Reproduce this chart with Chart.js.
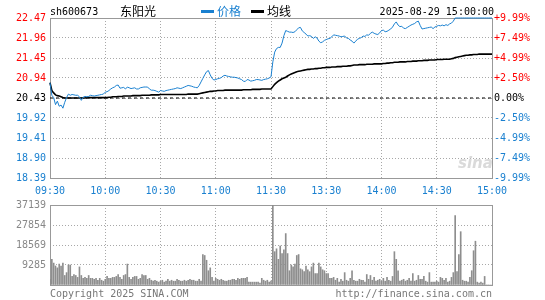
<!DOCTYPE html>
<html><head><meta charset="utf-8">
<script src="https://cdn.jsdelivr.net/npm/chart.js@4.4.0/dist/chart.umd.min.js"></script>
<style>
html,body{margin:0;padding:0;background:#fff;width:545px;height:300px;overflow:hidden;}
#wrap{position:relative;width:545px;height:300px;}
canvas{position:absolute;left:0;}
.t{position:absolute;white-space:nowrap;font-family:"DejaVu Sans Mono",monospace;font-size:10px;line-height:10px;}
.c{position:absolute;white-space:nowrap;font-family:"Noto Sans CJK SC",sans-serif;font-size:12px;line-height:12px;}
.bar{position:absolute;height:3px;width:13px;}
</style></head><body>
<div id="wrap">
<canvas id="pc" width="545" height="200" style="top:0;width:545px;height:200px"></canvas>
<canvas id="vc" width="545" height="105" style="top:195px;width:545px;height:105px"></canvas>
<div class="t" style="left:50px;top:7px;color:#000">sh600673</div>
<div class="c" style="left:120px;top:5px;color:#000">东阳光</div>
<div class="bar" style="left:201px;top:10px;background:#1a80d0"></div>
<div class="c" style="left:217px;top:5px;color:#1a80d0">价格</div>
<div class="bar" style="left:251px;top:10px;background:#000"></div>
<div class="c" style="left:267px;top:5px;color:#000">均线</div>
<div class="t" style="right:51px;top:7px;color:#000">2025-08-29 15:00:00</div>
<div style="position:absolute;left:458px;top:154px;font:italic bold 15px 'DejaVu Sans',sans-serif;color:#dadada;">sina</div>
<div class="t" style="left:50px;top:289px;color:#777">Copyright 2025 SINA.COM</div>
<div class="t" style="right:53px;top:289px;color:#777">http://finance.sina.com.cn</div>
</div>
<script>
const prevClose = 20.43;
const priceTicks = [18.39, 18.90, 19.41, 19.92, 20.43, 20.94, 21.45, 21.96, 22.47];
const pctLabels = ['-9.99%','-7.49%','-4.99%','-2.50%','0.00%','+2.50%','+4.99%','+7.49%','+9.99%'];
const timeTicks = [0, 30, 60, 90, 120, 150, 180, 210, 240];
const timeLabels = ['09:30','10:00','10:30','11:00','11:30','13:30','14:00','14:30','15:00'];
const volTicks = [0, 9285, 18569, 27854, 37139];

const priceAM = [
20.82,20.50,20.44,20.26,20.35,20.22,20.25,20.17,20.32,20.44,
20.53,20.50,20.52,20.51,20.50,20.50,20.46,20.37,20.45,20.47,
20.46,20.47,20.50,20.49,20.48,20.49,20.50,20.51,20.52,20.53,
20.58,20.59,20.62,20.66,20.69,20.71,20.75,20.76,20.68,20.69,
20.70,20.66,20.71,20.69,20.67,20.68,20.69,20.66,20.66,20.69,
20.70,20.71,20.71,20.71,20.66,20.63,20.63,20.62,20.60,20.58,
20.62,20.61,20.60,20.62,20.63,20.64,20.65,20.66,20.67,20.69,
20.68,20.67,20.69,20.71,20.73,20.75,20.74,20.73,20.71,20.70,
20.69,20.75,20.84,20.93,21.02,21.10,21.13,21.02,20.93,20.89,
20.90,20.92,20.93,20.95,20.99,21.01,20.99,20.98,20.97,20.96,
20.96,20.95,20.94,20.92,20.90,20.86,20.85,20.90,20.89,20.86,
20.87,20.88,20.90,20.90,20.89,20.88,20.90,20.91,20.92,20.94,
20.97];
const pricePM = [
21.35,21.60,21.69,21.72,21.72,21.83,22.02,22.15,22.13,
22.11,22.11,22.10,22.12,22.17,22.22,22.23,22.14,22.10,22.06,
22.01,22.02,22.00,21.95,21.99,21.96,21.88,21.84,21.86,21.90,
21.92,21.94,21.95,21.99,22.04,22.03,22.02,22.01,21.99,22.00,
22.01,21.96,21.95,21.91,21.88,21.83,21.88,21.93,21.95,21.97,
22.01,22.00,22.04,22.03,22.08,22.11,22.08,22.06,22.05,22.09,
22.15,22.16,22.12,22.13,22.16,22.19,22.24,22.32,22.37,22.29,
22.25,22.26,22.21,22.20,22.23,22.26,22.29,22.31,22.33,22.37,
22.39,22.28,22.19,22.20,22.21,22.22,22.23,22.24,22.20,22.24,
22.26,22.28,22.27,22.29,22.27,22.30,22.28,22.32,22.34,22.39,
22.47,22.47,22.47,22.47,22.47,22.47,22.47,22.47,22.47,22.47,
22.47,22.47,22.47,22.47,22.47,22.47,22.47,22.47,22.47,22.47,22.47];

const avgAM = [
20.82,20.62,20.56,20.51,20.49,20.48,20.46,20.44,20.43,20.43,
20.43,20.43,20.43,20.43,20.43,20.43,20.43,20.43,20.43,20.43,
20.44,20.44,20.44,20.44,20.44,20.44,20.44,20.44,20.44,20.44,
20.44,20.44,20.45,20.45,20.46,20.46,20.46,20.47,20.47,20.47,
20.48,20.48,20.48,20.48,20.48,20.49,20.49,20.49,20.49,20.49,
20.50,20.50,20.50,20.50,20.50,20.51,20.51,20.51,20.51,20.51,
20.52,20.52,20.52,20.52,20.52,20.52,20.52,20.52,20.52,20.52,
20.52,20.52,20.52,20.52,20.52,20.53,20.53,20.53,20.53,20.53,
20.53,20.54,20.55,20.56,20.57,20.58,20.59,20.60,20.60,20.61,
20.61,20.62,20.62,20.62,20.62,20.63,20.63,20.63,20.63,20.63,
20.63,20.63,20.63,20.63,20.63,20.64,20.64,20.64,20.64,20.64,
20.65,20.65,20.65,20.65,20.65,20.66,20.66,20.66,20.66,20.66,
20.66];
const avgPM = [
20.72,20.78,20.82,20.86,20.89,20.92,20.94,20.96,20.99,21.02,
21.04,21.06,21.08,21.10,21.11,21.12,21.13,21.14,21.15,21.16,
21.16,21.17,21.17,21.18,21.18,21.19,21.19,21.20,21.20,21.21,
21.21,21.21,21.22,21.22,21.22,21.23,21.23,21.23,21.24,21.24,
21.24,21.25,21.25,21.26,21.27,21.27,21.27,21.28,21.28,21.28,
21.28,21.29,21.29,21.29,21.29,21.30,21.30,21.30,21.30,21.30,
21.31,21.31,21.32,21.32,21.33,21.33,21.34,21.34,21.34,21.35,
21.35,21.35,21.35,21.36,21.36,21.36,21.37,21.37,21.37,21.38,
21.38,21.38,21.39,21.39,21.39,21.40,21.40,21.40,21.40,21.41,
21.41,21.41,21.41,21.42,21.42,21.42,21.42,21.43,21.44,21.46,
21.47,21.48,21.49,21.50,21.51,21.52,21.52,21.53,21.53,21.54,
21.54,21.54,21.55,21.55,21.55,21.55,21.55,21.55,21.55,21.55];

const volAM = [
2650,11930,10170,8840,7960,9720,8840,10170,4420,5750,
9280,9280,3980,4860,4420,3540,8400,4420,3090,3540,
3090,4420,3090,3090,2650,3090,2210,3090,2210,1770,
2650,3980,3090,3090,3540,3540,3980,4860,3540,2650,
4420,4860,9720,3540,2650,3540,3980,3980,2650,3090,
4860,4420,4420,2650,3090,2210,1770,2210,1770,1330,
1770,2210,1330,1770,2650,1770,2210,1770,1770,2650,
2210,1770,1770,2210,1770,2210,2650,2210,2210,1770,
1770,2650,1770,14140,13700,11490,6630,7960,3540,1770,
3090,2650,2210,2650,2210,1770,1770,2210,2210,2650,
2650,2210,3090,2650,3090,3090,3090,3540,1330,1330,
1330,1330,1330,1330,880,3090,2210,1770,2210,1330,
1770];
const volPM = [
37139,15470,16800,11930,18120,14590,16350,23870,14590,6630,
9280,8400,9720,13700,14140,7510,7070,6190,8840,7070,
6190,8400,10170,5300,5300,10170,8400,7070,6630,5300,
5300,3090,3090,3540,2210,3090,1330,2650,1770,5750,
2210,1770,3090,6630,2210,1770,1770,2650,2210,2210,
1330,4860,2650,4420,2210,3540,1770,2210,2650,1770,
3090,1770,3540,2210,1770,3980,15470,11930,6630,1770,
2210,2650,1770,2210,3090,1770,5300,1770,2210,4420,
2650,2650,3980,1770,1330,5750,1330,1330,1330,1770,
1330,3540,3090,2210,3090,1330,1770,3540,5750,32270,
6190,14140,24750,2210,1770,1770,1330,3540,6630,15910,
20330,1330,880,1330,880,3980,0,0,0,0];

const BLUE = '#1a80d0', RED = '#ff0000', GRID = '#a8a8a8', FRAME = '#999999';
const MONO = 'DejaVu Sans Mono';
const prices = priceAM.concat(pricePM);
const avgs = avgAM.concat(avgPM);
const vols = volAM.concat(volPM);
const toXY = arr => arr.map((v, i) => ({x: i, y: v}));

Chart.defaults.font.family = MONO;
Chart.defaults.font.size = 10;

const framePlugin = {
  id: 'frame',
  beforeDatasetsDraw(chart) {
    const {ctx, chartArea: a} = chart;
    ctx.save();
    ctx.strokeStyle = FRAME;
    ctx.lineWidth = 1;
    ctx.strokeRect(Math.round(a.left) + 0.5, Math.round(a.top) + 0.5,
      Math.round(a.right - a.left), Math.round(a.bottom - a.top));
    ctx.restore();
  }
};

const setTicks = list => s => { s.ticks = list.map(v => ({value: v})); };
const tickColor = c => c.index > 4 ? RED : (c.index === 4 ? '#000' : BLUE);

new Chart(document.getElementById('pc'), {
  type: 'line',
  data: {
    datasets: [
      {data: toXY(prices), borderColor: BLUE, borderWidth: 1, pointRadius: 0, tension: 0, order: 0, clip: 3, yAxisID: 'y'},
      {data: toXY(avgs), borderColor: '#000', borderWidth: 1.6, pointRadius: 0, tension: 0, order: 1, clip: 3, yAxisID: 'y'},
      {data: [{x: 0, y: prevClose}, {x: 240, y: prevClose}], borderColor: '#000', borderWidth: 1, borderDash: [3, 3], pointRadius: 0, order: 2, yAxisID: 'y'}
    ]
  },
  options: {
    responsive: false, animation: false, devicePixelRatio: 1, events: [],
    layout: {padding: {top: 18, left: 0, right: 0, bottom: 0}},
    plugins: {legend: {display: false}, tooltip: {enabled: false}},
    scales: {
      x: {
        type: 'linear', min: 0, max: 240, offset: false,
        afterBuildTicks: setTicks(timeTicks),
        afterFit: s => { s.height = 22; },
        ticks: {autoSkip: false, maxRotation: 0, padding: 7, color: BLUE, callback: (v, i) => timeLabels[i]},
        grid: {color: GRID, drawTicks: false, lineWidth: 1},
        border: {display: false, dash: [1, 2]}
      },
      y: {
        position: 'left', min: 18.39, max: 22.47,
        afterBuildTicks: setTicks(priceTicks),
        afterFit: s => { s.width = 50; },
        ticks: {padding: 4, color: tickColor, callback: (v, i) => priceTicks[i].toFixed(2)},
        grid: {color: GRID, drawTicks: false, lineWidth: 1},
        border: {display: false, dash: [1, 2]}
      },
      y2: {
        position: 'right', min: 18.39, max: 22.47,
        afterBuildTicks: setTicks(priceTicks),
        afterFit: s => { s.width = 53; },
        ticks: {padding: 2, color: tickColor, callback: (v, i) => pctLabels[i]},
        grid: {drawOnChartArea: false, drawTicks: false},
        border: {display: false}
      }
    }
  },
  plugins: [framePlugin]
});

new Chart(document.getElementById('vc'), {
  type: 'bar',
  data: {
    datasets: [{data: toXY(vols), backgroundColor: '#8e8e8e', barThickness: 1, borderWidth: 0}]
  },
  options: {
    responsive: false, animation: false, devicePixelRatio: 1, events: [],
    layout: {padding: {top: 6, left: 0, right: 53, bottom: 0}},
    plugins: {legend: {display: false}, tooltip: {enabled: false}},
    scales: {
      x: {
        type: 'linear', min: 0, max: 240, offset: false,
        afterBuildTicks: setTicks(timeTicks),
        afterFit: s => { s.height = 15; },
        ticks: {display: false},
        grid: {color: GRID, drawTicks: false, lineWidth: 1, offset: false},
        border: {display: false, dash: [1, 2]}
      },
      y: {
        position: 'left', min: 0, max: 37139,
        afterBuildTicks: setTicks(volTicks),
        afterFit: s => { s.width = 50; },
        ticks: {padding: 4, color: '#888', callback: (v, i) => i === 0 ? '' : String(volTicks[i])},
        grid: {color: GRID, drawTicks: false, lineWidth: 1},
        border: {display: false, dash: [1, 2]}
      }
    }
  },
  plugins: [framePlugin]
});
</script>
</body></html>
